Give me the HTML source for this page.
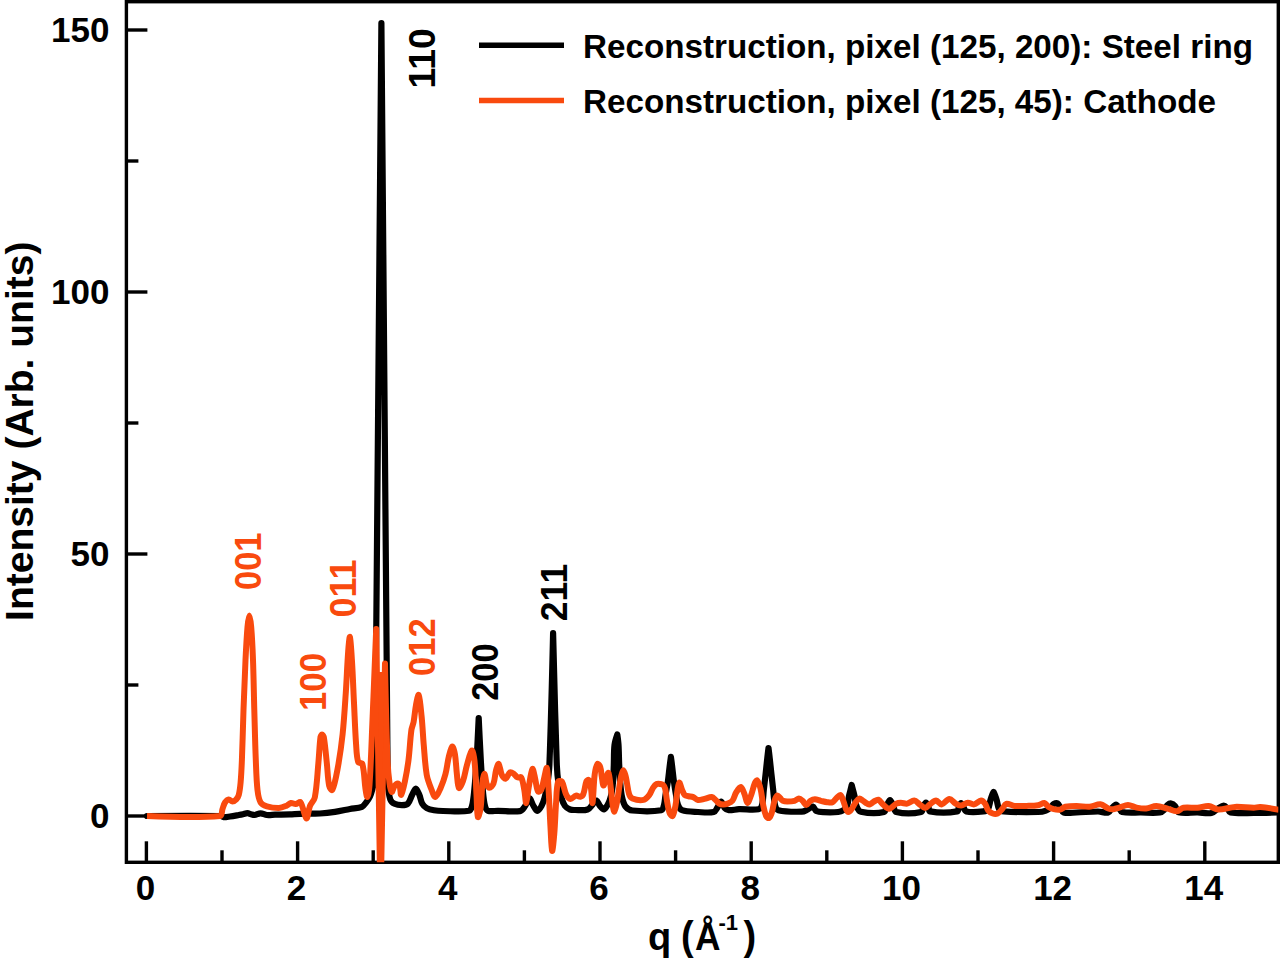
<!DOCTYPE html>
<html><head><meta charset="utf-8"><style>
html,body{margin:0;padding:0;background:#fff;}
body{width:1280px;height:962px;overflow:hidden;}
svg{display:block;}
text{font-family:"Liberation Sans",sans-serif;font-weight:bold;}
</style></head><body>
<svg width="1280" height="962" viewBox="0 0 1280 962">
<rect width="1280" height="962" fill="#fff"/>
<g>
<defs><clipPath id="c"><rect x="126.4" y="1.7" width="1151.9" height="860.6"/></clipPath></defs>
<g stroke="#000" stroke-width="3.4" fill="none">
<rect x="126.4" y="1.7" width="1151.9" height="860.6"/>
<line x1="146.4" y1="862.3" x2="146.4" y2="841.3"/><line x1="222.0" y1="862.3" x2="222.0" y2="850.3"/><line x1="297.6" y1="862.3" x2="297.6" y2="841.3"/><line x1="373.2" y1="862.3" x2="373.2" y2="850.3"/><line x1="448.8" y1="862.3" x2="448.8" y2="841.3"/><line x1="524.4" y1="862.3" x2="524.4" y2="850.3"/><line x1="600.0" y1="862.3" x2="600.0" y2="841.3"/><line x1="675.6" y1="862.3" x2="675.6" y2="850.3"/><line x1="751.2" y1="862.3" x2="751.2" y2="841.3"/><line x1="826.8" y1="862.3" x2="826.8" y2="850.3"/><line x1="902.4" y1="862.3" x2="902.4" y2="841.3"/><line x1="978.0" y1="862.3" x2="978.0" y2="850.3"/><line x1="1053.6" y1="862.3" x2="1053.6" y2="841.3"/><line x1="1129.2" y1="862.3" x2="1129.2" y2="850.3"/><line x1="1204.8" y1="862.3" x2="1204.8" y2="841.3"/><line x1="126.4" y1="816.0" x2="147.4" y2="816.0"/><line x1="126.4" y1="685.0" x2="138.4" y2="685.0"/><line x1="126.4" y1="554.0" x2="147.4" y2="554.0"/><line x1="126.4" y1="423.0" x2="138.4" y2="423.0"/><line x1="126.4" y1="292.0" x2="147.4" y2="292.0"/><line x1="126.4" y1="161.0" x2="138.4" y2="161.0"/><line x1="126.4" y1="30.0" x2="147.4" y2="30.0"/>
</g>
<g clip-path="url(#c)" fill="none" stroke-linejoin="round" stroke-linecap="round">
<path d="M147.00,816.00 C147.00,816.00 196.42,815.61 221.00,816.00 C221.92,816.01 222.61,817.15 223.50,817.20 C225.61,817.32 227.84,816.81 230.00,816.50 C232.93,816.08 235.84,815.52 238.75,815.00 C240.17,814.75 241.59,814.49 243.00,814.20 C244.50,813.89 246.01,813.20 247.50,813.20 C248.68,813.20 249.83,813.89 251.00,814.20 C252.13,814.49 253.27,815.11 254.40,815.00 C256.47,814.81 258.53,813.30 260.60,813.30 C262.70,813.30 264.76,814.79 266.90,815.00 C269.56,815.26 272.30,814.78 275.00,814.70 C280.00,814.55 285.00,814.48 290.00,814.30 C293.34,814.18 296.66,813.89 300.00,813.80 C306.66,813.62 313.35,813.86 320.00,813.50 C325.02,813.23 330.03,812.65 335.00,811.90 C340.03,811.15 345.00,809.95 350.00,809.00 C354.00,808.25 358.39,808.25 362.00,806.80 C363.72,806.11 364.83,804.13 366.00,802.60 C367.49,800.66 369.00,798.62 370.00,796.40 C371.34,793.42 372.09,790.16 373.00,787.00 C373.76,784.36 375.00,779.00 375.00,779.00 C375.00,779.00 381.40,23.00 381.40,23.00 C381.40,23.00 387.70,784.00 387.70,784.00 C387.70,784.00 388.65,794.67 390.30,799.40 C390.95,801.27 392.85,802.92 394.60,803.80 C396.72,804.86 399.48,805.20 401.90,805.20 C403.88,805.20 406.50,805.10 407.80,803.80 C409.90,801.70 410.59,797.89 412.10,795.00 C413.25,792.79 414.58,788.50 415.80,788.50 C417.01,788.50 418.44,792.73 419.40,795.00 C420.60,797.83 420.84,801.18 422.30,803.80 C423.27,805.54 424.96,807.13 426.70,808.10 C428.86,809.30 431.51,809.86 434.00,810.30 C436.95,810.82 439.99,810.96 443.00,811.00 C451.66,811.12 461.06,812.17 469.00,810.80 C470.73,810.50 471.54,807.80 472.00,806.00 C473.31,800.86 473.75,795.36 474.30,790.00 C475.25,780.69 475.88,771.34 476.50,762.00 C477.01,754.34 477.32,746.67 477.70,739.00 C478.05,732.00 478.70,718.00 478.70,718.00 C478.70,718.00 479.35,732.00 479.70,739.00 C480.08,746.67 480.43,754.34 480.90,762.00 C481.47,771.34 481.93,780.69 482.80,790.00 C483.30,795.36 483.72,800.87 485.00,806.00 C485.45,807.80 486.43,810.22 488.00,810.80 C490.77,811.82 494.67,810.77 498.00,810.80 C505.33,810.87 513.08,812.09 520.00,811.10 C521.91,810.83 523.29,808.60 524.50,807.00 C525.96,805.06 526.67,802.54 528.00,800.50 C528.50,799.74 529.53,798.18 530.00,798.60 C531.20,799.68 531.80,802.99 533.00,805.00 C534.26,807.12 535.88,810.82 537.40,811.00 C538.72,811.15 540.48,807.87 541.50,806.00 C542.85,803.53 543.74,800.74 544.50,798.00 C545.68,793.74 546.65,789.38 547.30,785.00 C548.28,778.38 549.14,771.70 549.40,765.00 C551.08,721.03 553.10,633.00 553.10,633.00 C553.10,633.00 555.18,721.02 556.80,765.00 C557.05,771.69 557.76,778.38 558.70,785.00 C559.32,789.38 560.23,793.77 561.50,798.00 C562.33,800.77 563.33,803.74 565.00,806.00 C566.17,807.58 568.17,808.77 570.00,809.50 C571.51,810.10 573.33,810.00 575.00,810.00 C579.19,810.00 583.88,810.74 587.60,809.50 C589.88,808.74 591.19,805.83 593.00,804.00 C594.16,802.83 595.49,800.21 596.50,800.50 C597.83,800.88 598.62,804.35 600.00,806.00 C601.12,807.35 602.79,809.66 604.00,809.50 C605.29,809.33 606.52,806.61 607.50,805.00 C608.45,803.44 609.23,801.73 609.80,800.00 C610.66,797.40 611.34,794.70 611.80,792.00 C612.47,788.04 612.90,784.01 613.20,780.00 C613.57,775.01 613.61,770.00 613.80,765.00 C614.05,758.33 613.74,751.59 614.50,745.00 C614.91,741.42 617.30,734.50 617.30,734.50 C617.30,734.50 618.28,741.49 618.50,745.00 C618.91,751.65 618.89,758.34 619.20,765.00 C619.46,770.67 619.71,776.35 620.20,782.00 C620.64,787.01 620.94,792.11 622.00,797.00 C622.71,800.28 623.56,803.98 625.50,806.50 C627.03,808.48 629.82,810.23 632.40,810.50 C641.79,811.47 652.63,811.73 661.40,810.20 C663.16,809.89 663.50,806.85 664.00,805.00 C664.87,801.78 664.95,798.33 665.50,795.00 C666.25,790.46 667.24,785.95 667.90,781.40 C668.60,776.55 669.01,771.66 669.60,766.80 C670.01,763.46 670.90,756.80 670.90,756.80 C670.90,756.80 671.79,763.46 672.20,766.80 C672.79,771.66 673.25,776.55 673.90,781.40 C674.51,785.95 675.22,790.48 676.00,795.00 C676.58,798.35 676.78,801.92 678.00,805.00 C678.78,806.98 680.07,809.52 682.00,810.20 C686.74,811.86 692.65,811.70 698.00,812.00 C703.22,812.30 708.99,813.11 713.70,812.00 C715.49,811.58 716.35,809.01 717.50,807.40 C718.85,805.51 720.03,801.36 721.20,801.50 C722.50,801.66 723.29,806.43 724.90,808.30 C725.79,809.33 727.33,810.11 728.70,810.20 C732.03,810.41 735.56,809.32 739.00,809.20 C745.52,808.98 752.59,810.30 758.60,809.20 C760.26,808.90 761.54,806.69 762.00,805.00 C763.28,800.29 763.22,795.00 763.80,790.00 C764.45,784.34 765.08,778.67 765.70,773.00 C766.25,768.00 766.74,763.00 767.30,758.00 C767.67,754.66 768.50,748.00 768.50,748.00 C768.50,748.00 769.33,754.66 769.70,758.00 C770.26,763.00 770.75,768.00 771.30,773.00 C771.92,778.67 772.55,784.34 773.20,790.00 C773.78,795.00 773.79,800.22 775.00,805.00 C775.49,806.95 776.45,809.74 778.30,810.20 C785.38,811.97 794.07,811.88 801.80,811.70 C803.87,811.65 805.80,810.38 807.70,809.50 C809.47,808.68 811.33,806.35 812.80,806.60 C814.23,806.85 814.82,810.19 816.40,811.00 C818.45,812.06 821.25,812.09 823.70,812.20 C828.51,812.42 833.44,812.49 838.20,812.00 C839.97,811.82 841.86,811.18 843.30,810.20 C844.79,809.18 846.33,807.68 847.00,806.00 C848.23,802.94 848.27,799.32 849.00,796.00 C849.44,793.99 850.01,792.00 850.50,790.00 C850.91,788.34 851.70,785.00 851.70,785.00 C851.70,785.00 852.58,788.33 853.00,790.00 C853.51,792.00 854.06,793.99 854.50,796.00 C855.23,799.32 855.26,802.92 856.50,806.00 C857.36,808.16 858.64,811.23 860.80,811.70 C867.81,813.23 877.42,813.68 884.00,812.00 C886.16,811.45 885.87,807.27 887.00,805.00 C887.87,803.27 889.00,800.00 890.00,800.00 C891.00,800.00 892.10,803.28 893.00,805.00 C894.20,807.28 894.07,811.45 896.30,812.00 C903.50,813.78 914.08,813.59 921.30,812.00 C923.15,811.59 922.58,807.90 923.50,806.00 C924.11,804.74 925.10,802.50 925.90,802.50 C926.70,802.50 927.71,804.73 928.30,806.00 C929.08,807.70 928.34,811.09 930.00,811.40 C937.97,812.89 949.21,812.89 957.20,811.40 C958.87,811.09 958.21,807.70 959.00,806.00 C959.51,804.90 960.42,803.00 961.10,803.00 C961.76,803.00 962.38,804.99 963.00,806.00 C964.11,807.79 964.46,810.91 966.30,811.40 C971.26,812.71 977.85,812.01 983.40,811.40 C985.08,811.21 987.15,810.36 988.00,809.00 C989.52,806.56 989.61,802.98 990.50,800.00 C991.01,798.31 991.56,796.64 992.20,795.00 C992.60,793.97 993.60,792.00 993.60,792.00 C993.60,792.00 994.60,793.97 995.00,795.00 C995.64,796.64 996.21,798.31 996.70,800.00 C997.57,802.98 997.59,806.57 999.10,809.00 C999.96,810.37 1002.07,811.27 1003.80,811.40 C1015.07,812.27 1026.70,812.22 1038.10,812.00 C1040.73,811.95 1043.46,811.48 1045.90,810.60 C1047.63,809.98 1049.17,808.69 1050.60,807.50 C1051.80,806.49 1052.51,804.75 1053.80,804.00 C1054.85,803.39 1056.67,802.85 1057.60,803.40 C1058.91,804.18 1059.50,806.49 1060.50,808.00 C1061.50,809.52 1062.01,812.05 1063.60,812.50 C1067.35,813.55 1072.20,812.62 1076.50,812.50 C1083.67,812.29 1090.84,811.50 1098.00,811.50 C1101.44,811.50 1105.31,813.25 1108.30,812.50 C1109.98,812.08 1110.66,809.39 1112.00,808.00 C1113.22,806.73 1114.75,804.50 1116.00,804.50 C1117.08,804.50 1118.04,806.80 1119.00,808.00 C1120.04,809.30 1120.47,811.69 1122.00,812.00 C1127.77,813.19 1134.60,812.42 1140.90,812.50 C1147.27,812.58 1153.82,813.17 1160.00,812.50 C1161.52,812.33 1162.91,811.09 1164.00,810.00 C1165.41,808.59 1166.05,806.31 1167.50,805.00 C1168.45,804.14 1170.03,803.34 1171.20,803.50 C1172.53,803.68 1174.04,804.87 1175.00,806.00 C1176.54,807.81 1176.60,811.69 1178.70,812.30 C1184.10,813.86 1191.23,812.37 1197.50,812.50 C1202.17,812.60 1207.13,813.85 1211.50,813.00 C1213.97,812.52 1215.76,809.88 1218.00,808.50 C1219.83,807.38 1221.89,805.50 1223.70,805.50 C1225.06,805.50 1226.40,807.34 1227.50,808.50 C1228.60,809.67 1228.79,812.24 1230.30,812.50 C1237.53,813.74 1245.90,813.00 1253.70,813.00 C1261.80,813.00 1278.00,812.50 1278.00,812.50" stroke="#000" stroke-width="6.2"/>
<path d="M147.00,816.00 C147.00,816.00 197.16,818.12 220.00,816.00 C222.33,815.78 221.64,811.32 222.50,809.00 C223.31,806.82 223.77,804.38 225.00,802.50 C225.86,801.18 227.42,799.58 228.75,799.40 C229.92,799.24 231.25,801.50 232.50,801.50 C233.75,801.50 235.29,800.40 236.25,799.40 C237.38,798.23 238.34,796.61 238.75,795.00 C239.79,790.98 240.22,786.69 240.60,782.50 C241.27,775.02 241.60,767.51 241.90,760.00 C242.57,743.34 242.90,726.66 243.50,710.00 C244.10,693.33 244.70,676.66 245.50,660.00 C246.03,648.99 246.56,637.97 247.50,627.00 C247.83,623.14 248.68,615.50 249.30,615.50 C249.92,615.50 250.88,623.13 251.20,627.00 C252.11,637.97 252.59,648.99 253.00,660.00 C253.62,676.66 253.83,693.33 254.30,710.00 C254.77,726.67 255.13,743.34 255.80,760.00 C256.20,770.01 256.38,780.08 257.50,790.00 C257.98,794.25 258.61,799.04 260.60,802.50 C261.74,804.48 264.60,805.61 266.90,806.30 C270.70,807.44 274.95,808.08 278.90,808.00 C281.35,807.95 283.81,806.85 286.10,805.90 C287.81,805.19 289.20,803.32 290.90,803.00 C292.40,802.72 294.13,804.21 295.70,804.10 C297.33,803.98 299.68,801.20 300.50,802.30 C303.25,806.00 304.60,817.82 306.40,818.50 C307.77,819.02 308.39,809.93 310.00,805.90 C311.19,802.93 314.19,800.62 314.80,797.50 C316.99,786.25 317.31,774.38 318.40,762.80 C319.21,754.21 319.42,745.48 320.50,737.00 C320.62,736.05 321.47,734.50 322.00,734.50 C322.57,734.50 323.63,736.00 323.80,737.00 C325.23,745.43 325.85,754.19 326.80,762.80 C327.65,770.53 327.69,778.55 329.20,786.00 C329.53,787.62 331.77,791.06 332.30,790.00 C334.53,785.53 336.22,776.36 337.50,769.40 C339.65,757.76 341.33,745.98 342.60,734.20 C344.09,720.38 344.86,706.48 345.80,692.60 C346.73,678.78 347.18,664.91 348.20,651.10 C348.55,646.38 349.44,635.73 349.90,637.00 C350.70,639.20 351.49,653.32 352.00,661.50 C352.86,675.32 353.32,689.17 354.00,703.00 C354.68,716.83 355.12,730.69 356.10,744.50 C356.52,750.36 356.54,756.86 358.20,762.00 C358.64,763.36 362.02,762.60 362.40,764.00 C364.45,771.60 364.27,780.70 365.50,789.00 C365.90,791.70 366.76,797.54 367.30,797.00 C368.10,796.20 369.23,789.05 369.50,785.00 C370.96,763.39 371.57,741.67 372.50,720.00 C373.80,689.67 376.20,629.00 376.20,629.00 C376.20,629.00 380.50,905.00 380.50,905.00 C380.50,905.00 385.00,663.50 385.00,663.50 C385.00,663.50 386.29,727.85 387.50,760.00 C387.79,767.69 388.50,775.39 389.50,783.00 C389.90,786.05 390.73,791.42 391.70,792.00 C392.39,792.42 393.28,787.78 394.50,786.00 C395.25,784.91 396.65,783.40 397.60,783.40 C398.38,783.40 399.38,784.96 399.70,786.00 C400.58,788.83 400.52,795.55 401.20,795.00 C402.22,794.18 403.87,786.33 404.80,781.90 C406.31,774.69 407.57,767.41 408.50,760.10 C409.77,750.11 410.07,739.97 411.40,730.00 C411.77,727.27 413.10,724.72 413.60,722.00 C414.63,716.38 414.94,710.61 416.00,705.00 C416.64,701.61 418.09,693.77 418.70,695.00 C419.96,697.57 420.88,709.24 421.60,716.40 C422.58,726.07 422.95,735.81 423.80,745.50 C424.65,755.24 425.07,765.10 426.70,774.70 C427.50,779.44 429.35,784.02 431.10,788.50 C432.25,791.45 433.89,797.11 435.40,797.00 C437.09,796.88 439.28,791.02 440.70,787.80 C442.61,783.46 444.20,778.90 445.40,774.30 C446.90,768.57 447.39,762.56 448.80,756.80 C449.66,753.29 451.03,747.04 452.20,746.50 C453.06,746.10 454.46,751.40 454.90,754.00 C456.03,760.66 456.11,767.55 456.90,774.30 C457.44,778.88 457.61,786.57 458.90,788.00 C459.65,788.83 462.12,783.60 463.00,781.10 C464.82,775.90 465.46,770.24 467.00,764.90 C468.40,760.04 470.33,751.30 471.80,750.50 C472.83,749.94 474.13,757.28 474.50,760.80 C475.69,771.98 475.82,783.33 476.50,794.60 C476.95,802.07 476.93,813.82 477.90,817.00 C478.30,818.32 480.20,811.16 480.60,808.10 C481.77,799.19 481.55,790.03 482.60,781.10 C482.89,778.67 484.03,773.62 484.60,774.00 C485.37,774.52 485.52,780.71 486.60,783.80 C487.12,785.31 488.35,787.80 489.40,787.80 C490.62,787.80 492.76,785.50 493.40,783.80 C494.99,779.57 494.89,774.51 496.10,770.00 C496.66,767.91 498.00,763.39 498.70,764.00 C499.93,765.06 500.32,771.64 501.90,775.00 C502.62,776.54 504.51,779.05 505.60,778.70 C507.21,778.18 508.21,773.50 510.00,772.40 C510.91,771.84 512.64,772.99 513.70,773.70 C515.14,774.66 516.03,776.67 517.50,777.40 C518.53,777.91 520.69,776.47 521.20,777.40 C522.96,780.64 523.48,785.69 524.30,789.90 C525.14,794.23 525.53,803.38 526.20,803.00 C527.00,802.55 527.76,792.58 528.70,787.40 C529.82,781.25 530.99,771.27 532.40,769.00 C533.06,767.94 534.19,774.57 534.90,777.40 C536.06,782.07 536.32,788.16 538.00,791.50 C538.42,792.33 540.74,790.92 541.20,789.90 C542.84,786.22 543.24,781.56 544.30,777.40 C545.10,774.26 546.36,766.72 546.80,768.00 C547.79,770.89 548.14,782.59 548.60,789.90 C549.38,802.36 549.79,814.84 550.50,827.30 C550.95,835.20 551.37,849.79 552.10,851.00 C552.64,851.89 553.82,839.42 554.30,833.60 C555.15,823.22 555.36,812.79 556.10,802.40 C556.59,795.59 556.40,787.87 558.00,782.00 C558.30,780.90 561.21,780.59 561.80,781.50 C563.94,784.79 564.19,790.56 566.20,794.60 C567.09,796.40 568.91,798.84 570.50,799.00 C572.17,799.17 574.06,796.05 576.00,795.60 C577.36,795.28 579.08,796.95 580.40,796.70 C581.51,796.49 582.85,795.35 583.30,794.20 C584.88,790.15 584.98,785.10 586.50,781.10 C586.78,780.37 588.35,779.49 588.70,780.00 C589.82,781.65 590.47,785.01 590.90,787.60 C591.74,792.67 592.05,804.53 592.50,803.00 C593.32,800.17 593.49,783.92 594.70,774.50 C595.16,770.92 596.16,765.86 597.50,764.00 C597.99,763.32 599.79,765.69 600.20,766.90 C601.22,769.93 601.22,773.44 601.80,776.70 C602.32,779.64 602.73,785.31 603.50,785.50 C604.20,785.67 605.22,780.34 606.20,777.80 C606.85,776.10 607.97,772.04 608.40,772.80 C609.41,774.60 609.93,781.25 610.50,785.50 C611.37,792.01 611.73,798.61 612.70,805.10 C613.03,807.28 613.82,811.94 614.40,811.50 C615.28,810.84 616.47,805.09 617.10,801.80 C618.47,794.59 619.02,787.21 620.40,780.00 C621.02,776.77 622.03,771.15 623.10,770.50 C623.83,770.05 625.25,774.53 625.80,776.70 C627.25,782.43 627.41,788.63 629.10,794.20 C629.61,795.90 630.83,797.88 632.40,798.50 C635.67,799.78 640.20,800.57 643.60,799.90 C645.80,799.47 647.73,797.09 649.20,795.20 C650.87,793.05 651.47,790.08 653.00,787.80 C653.97,786.35 655.24,784.74 656.70,784.00 C657.74,783.47 659.27,783.81 660.50,784.00 C661.47,784.15 662.65,784.35 663.30,785.00 C664.21,785.91 664.89,787.36 665.20,788.70 C666.12,792.66 666.25,796.86 667.00,800.90 C667.78,805.13 668.35,809.60 669.80,813.50 C670.22,814.63 672.11,816.68 672.60,816.00 C674.01,814.02 674.82,809.06 675.50,805.50 C676.38,800.89 676.55,796.14 677.30,791.50 C677.79,788.48 678.34,782.85 679.20,782.50 C679.91,782.21 680.97,787.27 682.00,789.60 C682.84,791.51 683.45,793.85 684.80,795.20 C685.65,796.05 687.32,795.91 688.60,796.20 C690.12,796.54 691.77,796.52 693.20,797.10 C694.91,797.79 696.27,799.72 698.00,800.00 C700.00,800.32 702.28,799.34 704.40,798.90 C706.88,798.38 709.50,796.89 711.80,797.10 C713.23,797.23 714.41,798.87 715.60,799.90 C716.91,801.04 717.87,802.72 719.30,803.60 C720.37,804.26 721.83,804.50 723.10,804.50 C724.63,804.50 726.27,804.17 727.70,803.60 C729.37,802.94 731.34,802.19 732.40,800.80 C734.18,798.46 734.62,795.00 736.20,792.40 C737.42,790.40 739.50,786.71 740.80,787.00 C742.30,787.34 743.56,791.77 744.60,794.30 C745.76,797.11 746.29,802.85 747.40,803.00 C748.45,803.15 750.09,797.89 751.10,795.20 C752.59,791.22 753.29,786.87 754.90,783.00 C755.33,781.97 756.68,779.98 757.20,780.50 C758.54,781.84 759.81,785.78 760.50,788.60 C761.85,794.12 762.16,799.91 763.30,805.50 C764.02,809.05 764.68,812.84 766.10,816.00 C766.55,817.00 768.20,818.38 768.90,818.00 C770.07,817.38 771.11,814.80 771.70,813.00 C772.98,809.07 773.24,804.74 774.50,800.80 C775.10,798.91 776.15,796.07 777.30,795.50 C778.02,795.14 779.19,797.14 780.10,798.00 C781.06,798.91 781.77,800.25 782.90,800.80 C784.17,801.42 785.83,801.50 787.30,801.50 C789.73,801.50 792.27,801.38 794.60,800.80 C796.14,800.42 797.49,798.60 798.90,798.60 C800.16,798.60 801.54,799.86 802.60,800.80 C803.98,802.03 804.93,805.10 806.20,805.10 C807.60,805.10 808.93,801.91 810.60,800.80 C811.83,799.98 813.44,799.30 814.90,799.30 C816.84,799.30 818.82,800.34 820.80,800.80 C822.96,801.30 825.11,801.94 827.30,802.20 C828.98,802.40 830.97,802.86 832.40,802.20 C834.14,801.39 835.26,799.18 836.80,797.80 C837.93,796.78 839.51,794.59 840.40,795.00 C841.67,795.59 842.50,798.80 843.30,800.80 C844.43,803.63 844.95,806.76 846.20,809.50 C846.65,810.49 847.61,812.00 848.40,812.00 C849.31,812.00 850.55,810.51 851.30,809.50 C852.98,807.25 854.03,804.47 855.70,802.20 C856.70,800.84 857.98,798.85 859.30,798.60 C860.41,798.39 861.79,800.03 863.00,800.80 C864.46,801.73 865.79,802.89 867.30,803.70 C868.03,804.09 868.97,804.64 869.70,804.40 C871.21,803.91 872.49,802.33 874.00,801.50 C875.36,800.76 877.06,799.30 878.30,799.70 C880.06,800.27 881.31,802.99 883.00,804.40 C884.94,806.02 887.15,808.92 889.20,808.80 C891.58,808.66 893.75,804.91 896.30,803.60 C897.65,802.91 899.36,802.80 900.90,802.80 C902.99,802.80 905.19,803.95 907.20,803.60 C909.62,803.18 911.98,800.36 914.20,800.50 C916.15,800.62 917.84,803.13 919.70,804.40 C921.51,805.63 923.42,808.00 925.20,808.00 C926.78,808.00 928.20,805.50 929.80,804.40 C931.83,803.00 934.04,800.50 936.10,800.50 C937.97,800.50 939.76,804.61 941.60,804.40 C944.19,804.11 946.83,799.15 949.40,799.00 C951.49,798.88 953.38,802.36 955.60,803.60 C957.28,804.53 959.29,805.62 961.10,805.50 C963.35,805.35 965.52,802.99 967.80,802.80 C969.85,802.63 972.11,804.74 974.10,804.40 C976.55,803.98 978.86,800.66 981.10,800.50 C982.49,800.40 984.06,802.28 985.00,803.60 C986.39,805.55 986.63,808.44 988.10,810.30 C989.23,811.74 991.08,812.92 992.80,813.50 C994.22,813.98 996.18,814.12 997.50,813.50 C999.31,812.65 1000.78,810.70 1002.20,809.10 C1003.65,807.47 1004.32,804.25 1006.10,803.80 C1008.49,803.19 1011.79,805.60 1014.70,805.90 C1018.55,806.30 1022.50,806.02 1026.40,805.90 C1030.30,805.78 1034.28,805.82 1038.10,805.20 C1040.28,804.85 1042.52,802.72 1044.40,803.00 C1045.92,803.22 1046.82,805.74 1048.30,806.70 C1049.95,807.77 1051.88,808.63 1053.80,809.10 C1055.78,809.59 1058.05,809.99 1060.00,809.60 C1061.88,809.22 1063.39,807.23 1065.30,806.80 C1068.89,806.00 1072.77,805.90 1076.50,805.90 C1080.80,805.90 1085.14,807.08 1089.40,806.80 C1093.14,806.55 1096.96,803.98 1100.50,804.30 C1103.26,804.55 1105.58,807.47 1108.30,808.50 C1109.88,809.10 1111.72,809.34 1113.40,809.20 C1115.42,809.04 1117.41,808.16 1119.40,807.60 C1122.27,806.79 1125.13,805.10 1128.00,805.10 C1130.87,805.10 1133.68,807.05 1136.60,807.60 C1139.71,808.18 1142.97,808.75 1146.10,808.50 C1149.57,808.22 1152.97,805.97 1156.40,806.00 C1160.10,806.03 1163.81,807.76 1167.50,808.70 C1170.64,809.50 1173.88,811.37 1176.90,811.20 C1179.18,811.07 1181.05,808.19 1183.40,807.80 C1187.92,807.05 1192.83,808.13 1197.50,807.80 C1201.26,807.53 1205.06,805.70 1208.70,806.00 C1211.92,806.27 1214.86,809.39 1218.10,809.50 C1223.63,809.69 1229.34,807.17 1235.00,806.90 C1241.20,806.60 1247.48,807.78 1253.70,807.80 C1255.91,807.81 1258.10,806.84 1260.30,807.00 C1266.54,807.47 1279.00,809.70 1279.00,809.70" stroke="#F94A0E" stroke-width="6.0" stroke-linecap="butt"/>
<polygon points="377.6,672 384.6,672 382.6,770 379.4,770" fill="#F94A0E"/>
</g>
<g font-size="35" fill="#000">
<text x="145.4" y="899.5" text-anchor="middle">0</text><text x="296.6" y="899.5" text-anchor="middle">2</text><text x="447.8" y="899.5" text-anchor="middle">4</text><text x="599.0" y="899.5" text-anchor="middle">6</text><text x="750.2" y="899.5" text-anchor="middle">8</text><text x="901.4" y="899.5" text-anchor="middle">10</text><text x="1052.6" y="899.5" text-anchor="middle">12</text><text x="1203.8" y="899.5" text-anchor="middle">14</text>
<text x="109.5" y="828.3" text-anchor="end">0</text><text x="109.5" y="566.3" text-anchor="end">50</text><text x="109.5" y="304.3" text-anchor="end">100</text><text x="109.5" y="42.3" text-anchor="end">150</text>
</g>
<g font-size="35">
<text transform="translate(434.60,88.40) rotate(-90)" fill="#000" font-size="36" textLength="60.00" lengthAdjust="spacingAndGlyphs">110</text><text transform="translate(261.10,590.00) rotate(-90)" fill="#F94A0E" font-size="36" textLength="57.40" lengthAdjust="spacingAndGlyphs">001</text><text transform="translate(356.00,617.40) rotate(-90)" fill="#F94A0E" font-size="36" textLength="57.80" lengthAdjust="spacingAndGlyphs">011</text><text transform="translate(326.20,711.00) rotate(-90)" fill="#F94A0E" font-size="36" textLength="58.00" lengthAdjust="spacingAndGlyphs">100</text><text transform="translate(435.00,676.10) rotate(-90)" fill="#F94A0E" font-size="36" textLength="57.80" lengthAdjust="spacingAndGlyphs">012</text><text transform="translate(498.00,700.80) rotate(-90)" fill="#000" font-size="36" textLength="57.40" lengthAdjust="spacingAndGlyphs">200</text><text transform="translate(567.30,621.20) rotate(-90)" fill="#000" font-size="36" textLength="57.40" lengthAdjust="spacingAndGlyphs">211</text>
</g>
<g stroke-width="5.5">
<line x1="479" y1="45.3" x2="564" y2="45.3" stroke="#000"/>
<line x1="479" y1="100.5" x2="564" y2="100.5" stroke="#F94A0E"/>
</g>
<g fill="#000">
<text x="583.00" y="57.80" font-size="34" textLength="670.00" lengthAdjust="spacingAndGlyphs">Reconstruction, pixel (125, 200): Steel ring</text>
<text x="583.00" y="113.20" font-size="34" textLength="633.00" lengthAdjust="spacingAndGlyphs">Reconstruction, pixel (125, 45): Cathode</text>
</g>
<g font-size="38" fill="#000">
<text transform="translate(33.10,620.90) rotate(-90)" font-size="39" textLength="379.40" lengthAdjust="spacingAndGlyphs">Intensity (Arb. units)</text>
<text x="647.9" y="950">q</text>
<text x="681" y="950" transform="translate(681,950) scale(1,1.07) translate(-681,-950)">(</text>
<text x="695" y="950" textLength="25.5" lengthAdjust="spacingAndGlyphs">&#197;</text>
<text x="718.5" y="930" font-size="22">-1</text>
<text x="743.5" y="950" transform="translate(743.5,950) scale(1,1.07) translate(-743.5,-950)">)</text>
</g>
</g>
</svg>
</body></html>
